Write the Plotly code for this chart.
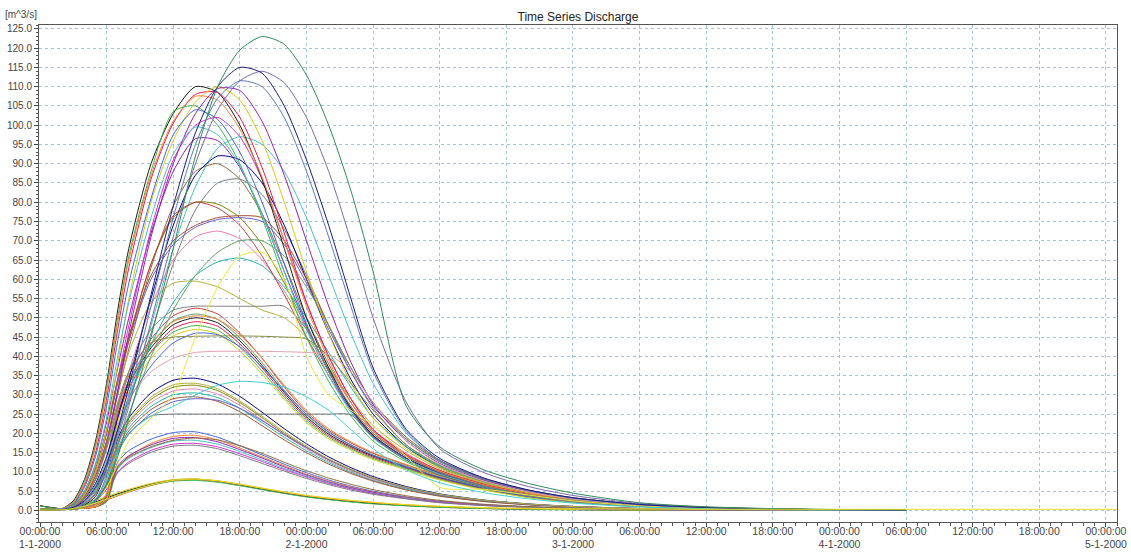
import plotly.graph_objects as go

# time axis in hours since 1-1-2000 00:00:00
HOURS = [0, 2, 3, 4, 5, 6, 7, 8, 10, 12, 14, 16, 18, 20, 22, 24,
         26, 28, 30, 33, 36, 40, 44, 48, 54, 60, 68, 78]

X_TICK_VALUES = [0, 6, 12, 18, 24, 30, 36, 42, 48, 54, 60, 66, 72, 78, 84, 90, 96]
X_TICK_LABELS = ["00:00:00<br>1-1-2000", "06:00:00", "12:00:00", "18:00:00",
                 "00:00:00<br>2-1-2000", "06:00:00", "12:00:00", "18:00:00",
                 "00:00:00<br>3-1-2000", "06:00:00", "12:00:00", "18:00:00",
                 "00:00:00<br>4-1-2000", "06:00:00", "12:00:00", "18:00:00",
                 "00:00:00<br>5-1-2000"]

# family peaking near 8 m3/s
F8 = [
    [0.1, 0.2, 0.6, 1.3, 2.2, 3.3, 4.3, 5.2, 6.8, 7.9, 8.1, 7.6, 6.6, 5.5, 4.5, 3.6, 2.9, 2.3, 1.8, 1.25, 0.85, 0.5, 0.3, 0.2, 0.1, 0.05, 0.03, 0.02],
    [0.1, 0.2, 0.4, 0.9, 1.7, 2.7, 3.8, 4.8, 6.5, 7.7, 8.0, 7.6, 6.7, 5.7, 4.7, 3.8, 3.1, 2.5, 2.0, 1.4, 1.0, 0.6, 0.38, 0.24, 0.12, 0.06, 0.03, 0.02],
    [1.2, 0.4, 0.6, 1.2, 2.0, 3.0, 4.0, 5.0, 6.6, 7.6, 7.8, 7.3, 6.4, 5.4, 4.4, 3.5, 2.8, 2.2, 1.7, 1.2, 0.8, 0.5, 0.3, 0.18, 0.09, 0.05, 0.02, 0.01],
    [0.1, 0.3, 0.8, 1.6, 2.6, 3.6, 4.6, 5.5, 7.0, 8.0, 8.2, 7.7, 6.8, 5.8, 4.8, 3.9, 3.2, 2.6, 2.1, 1.5, 1.05, 0.65, 0.42, 0.27, 0.14, 0.07, 0.03, 0.02],
]
YELLOW_HOURS = [0, 2, 3, 4, 5, 6, 7, 8, 10, 12, 14, 16, 18, 20, 22, 24,
                26, 28, 30, 33, 36, 40, 44, 48, 54, 60, 68, 78, 88, 97]
YELLOW_VALUES = [0.1, 0.2, 0.5, 1.1, 1.9, 2.9, 3.9, 4.9, 6.6, 7.8, 8.1, 7.7, 6.8, 5.8, 4.8, 3.9,
                 3.2, 2.6, 2.1, 1.5, 1.1, 0.75, 0.55, 0.45, 0.38, 0.33, 0.3, 0.3, 0.3, 0.3]

# family peaking near 18-20
F20 = [
    [0.3, 0.3, 0.4, 0.6, 1.0, 3.0, 12.5, 15.5, 18.5, 20.2, 20.4, 19.0, 16.8, 14.4, 12.0, 9.8, 7.9, 6.3, 5.0, 3.5, 2.4, 1.5, 0.95, 0.6, 0.3, 0.16, 0.07, 0.03],
    [0.2, 0.3, 0.6, 1.3, 3.0, 6.5, 11.0, 14.0, 17.4, 19.2, 19.5, 18.3, 16.2, 13.9, 11.6, 9.4, 7.6, 6.1, 4.8, 3.4, 2.3, 1.45, 0.9, 0.55, 0.28, 0.14, 0.06, 0.03],
    [1.2, 0.4, 0.5, 0.7, 1.1, 2.8, 11.5, 14.2, 17.0, 18.7, 18.9, 17.8, 15.8, 13.6, 11.3, 9.2, 7.4, 5.9, 4.7, 3.3, 2.25, 1.4, 0.88, 0.54, 0.27, 0.13, 0.06, 0.03],
    [0.3, 0.3, 0.4, 0.6, 0.9, 2.2, 10.8, 13.5, 16.3, 18.0, 18.2, 17.2, 15.3, 13.1, 10.9, 8.9, 7.2, 5.7, 4.5, 3.2, 2.15, 1.35, 0.85, 0.52, 0.26, 0.13, 0.06, 0.03],
    [0.2, 0.3, 0.5, 1.1, 2.4, 5.5, 10.0, 12.6, 15.6, 17.2, 17.4, 16.5, 14.7, 12.7, 10.6, 8.7, 7.0, 5.6, 4.4, 3.1, 2.1, 1.3, 0.82, 0.5, 0.25, 0.12, 0.05, 0.02],
    [0.3, 0.3, 0.4, 0.6, 1.0, 2.6, 11.2, 13.8, 16.5, 18.2, 18.8, 18.3, 16.8, 14.8, 12.5, 10.3, 8.4, 6.8, 5.4, 3.8, 2.6, 1.6, 1.0, 0.62, 0.31, 0.15, 0.07, 0.03],
    [0.2, 0.2, 0.4, 0.7, 1.5, 4.0, 9.8, 12.2, 15.1, 16.7, 16.9, 16.0, 14.2, 12.2, 10.2, 8.3, 6.7, 5.3, 4.2, 3.0, 2.0, 1.25, 0.8, 0.48, 0.24, 0.12, 0.05, 0.02],
]

# family peaking near 30
F30 = [
    [0.3, 0.3, 0.4, 0.6, 1.0, 3.0, 18.5, 24.0, 30.5, 33.8, 34.3, 32.8, 29.6, 25.5, 21.2, 17.3, 13.9, 11.1, 8.8, 6.2, 4.3, 2.7, 1.7, 1.05, 0.52, 0.26, 0.11, 0.05],
    [0.3, 0.3, 0.5, 1.1, 2.8, 8.0, 17.5, 22.8, 28.8, 32.0, 32.5, 31.1, 28.0, 24.1, 20.0, 16.4, 13.1, 10.5, 8.3, 5.9, 4.1, 2.6, 1.6, 1.0, 0.5, 0.25, 0.1, 0.04],
    [1.2, 0.4, 0.5, 0.7, 1.2, 3.5, 17.0, 22.2, 28.0, 31.0, 31.5, 30.2, 27.3, 23.5, 19.6, 16.0, 12.8, 10.2, 8.1, 5.7, 4.0, 2.5, 1.55, 0.95, 0.48, 0.24, 0.1, 0.04],
    [0.2, 0.3, 0.5, 1.0, 2.5, 7.0, 16.2, 21.4, 27.0, 30.0, 30.5, 29.3, 26.5, 22.8, 19.0, 15.5, 12.4, 9.9, 7.8, 5.5, 3.8, 2.4, 1.5, 0.92, 0.46, 0.23, 0.1, 0.04],
    [0.3, 0.3, 0.4, 0.6, 0.9, 2.4, 15.5, 20.6, 26.2, 29.0, 29.5, 28.3, 25.6, 22.0, 18.3, 15.0, 12.0, 9.6, 7.6, 5.3, 3.7, 2.3, 1.45, 0.9, 0.45, 0.22, 0.09, 0.04],
    [0.2, 0.3, 0.5, 1.0, 2.4, 6.8, 15.0, 19.8, 25.2, 28.2, 29.0, 28.6, 26.5, 23.3, 19.7, 16.3, 13.2, 10.6, 8.4, 5.9, 4.1, 2.6, 1.6, 1.0, 0.5, 0.25, 0.1, 0.04],
    [0.3, 0.3, 0.4, 0.7, 1.1, 3.2, 17.8, 23.2, 29.4, 32.6, 33.0, 31.6, 28.4, 24.5, 20.4, 16.7, 13.4, 10.7, 8.5, 6.0, 4.2, 2.65, 1.65, 1.02, 0.51, 0.25, 0.1, 0.04],
]

# family peaking near 50
F50 = [
    [0.3, 0.4, 0.8, 1.6, 4.2, 12.5, 27.0, 35.0, 44.5, 50.5, 52.5, 51.0, 46.0, 39.5, 32.0, 25.5, 20.8, 17.5, 14.8, 11.8, 9.0, 6.0, 3.8, 2.4, 1.15, 0.57, 0.23, 0.08],
    [0.3, 0.3, 0.4, 0.6, 1.0, 4.0, 26.0, 33.8, 43.2, 49.2, 51.0, 49.6, 44.8, 38.4, 31.2, 24.8, 20.2, 17.0, 14.4, 11.5, 8.7, 5.8, 3.7, 2.3, 1.1, 0.55, 0.22, 0.08],
    [1.2, 0.4, 0.7, 1.4, 3.6, 11.0, 25.0, 32.8, 42.2, 48.2, 50.0, 48.7, 44.0, 37.7, 30.6, 24.3, 19.8, 16.6, 14.1, 11.2, 8.5, 5.7, 3.6, 2.25, 1.08, 0.54, 0.21, 0.08],
    [0.2, 0.3, 0.4, 0.6, 0.9, 3.5, 24.0, 31.8, 41.2, 47.2, 49.0, 47.8, 43.2, 37.0, 30.0, 23.8, 19.4, 16.3, 13.8, 11.0, 8.3, 5.6, 3.5, 2.2, 1.05, 0.52, 0.21, 0.07],
    [0.3, 0.4, 0.8, 1.7, 4.5, 13.0, 26.5, 33.0, 41.0, 46.3, 48.0, 46.8, 42.3, 36.2, 29.4, 23.3, 19.0, 16.0, 13.5, 10.8, 8.1, 5.4, 3.4, 2.15, 1.02, 0.51, 0.2, 0.07],
    [0.3, 0.3, 0.4, 0.6, 1.0, 3.0, 23.0, 30.5, 39.5, 45.3, 47.0, 45.8, 41.4, 35.4, 28.8, 22.8, 18.6, 15.6, 13.2, 10.5, 7.9, 5.3, 3.35, 2.1, 1.0, 0.5, 0.2, 0.07],
    [0.2, 0.3, 0.5, 1.0, 2.8, 9.0, 21.0, 28.5, 37.5, 43.5, 46.0, 45.6, 42.5, 37.2, 31.0, 25.0, 20.4, 17.0, 14.3, 11.3, 8.6, 5.7, 3.6, 2.25, 1.08, 0.54, 0.21, 0.08],
    [0.3, 0.3, 0.4, 0.7, 1.2, 4.5, 25.5, 33.5, 43.0, 49.0, 50.5, 49.6, 45.6, 39.5, 32.5, 26.0, 21.2, 17.8, 15.0, 11.9, 9.0, 6.0, 3.8, 2.4, 1.15, 0.57, 0.23, 0.08],
]

# early-rising family peaking near 100-110
F100 = [
    [0.2, 0.5, 2.5, 8.0, 18.0, 33.0, 52.0, 68.0, 90.0, 103.0, 110.0, 108.5, 100.0, 86.0, 68.0, 50.0, 37.0, 26.5, 19.5, 13.5, 9.8, 6.4, 4.2, 2.7, 1.3, 0.65, 0.26, 0.1],
    [0.2, 0.4, 1.8, 6.5, 15.0, 29.0, 47.0, 63.0, 86.0, 100.5, 108.0, 108.5, 102.0, 89.0, 72.0, 54.0, 40.0, 29.0, 21.0, 14.5, 10.4, 6.8, 4.4, 2.8, 1.35, 0.67, 0.27, 0.1],
    [1.2, 0.5, 2.2, 7.5, 17.0, 32.0, 50.0, 66.0, 88.0, 103.5, 105.0, 100.0, 90.0, 76.0, 60.0, 45.0, 33.5, 24.5, 18.0, 12.6, 9.2, 6.0, 3.9, 2.5, 1.2, 0.6, 0.24, 0.09],
    [0.2, 0.3, 1.0, 4.0, 10.0, 21.0, 38.0, 55.0, 80.0, 96.0, 106.0, 110.0, 106.5, 96.0, 80.0, 62.0, 46.0, 33.0, 24.0, 16.0, 11.2, 7.2, 4.6, 2.9, 1.4, 0.68, 0.27, 0.1],
    [0.2, 0.4, 1.6, 6.0, 14.0, 27.0, 44.0, 59.0, 81.0, 97.5, 104.0, 101.5, 93.0, 80.0, 64.0, 48.5, 36.0, 26.0, 19.2, 13.4, 9.6, 6.2, 4.0, 2.6, 1.25, 0.62, 0.25, 0.09],
    [0.2, 0.5, 2.0, 7.0, 16.5, 31.0, 49.0, 65.0, 87.0, 101.0, 107.5, 106.5, 99.0, 86.5, 70.0, 53.0, 39.0, 28.0, 20.5, 14.2, 10.2, 6.6, 4.3, 2.75, 1.32, 0.66, 0.26, 0.1],
    [0.2, 0.3, 0.8, 3.0, 8.0, 17.0, 31.0, 46.0, 71.0, 90.0, 103.0, 109.5, 109.0, 101.0, 87.0, 70.0, 53.0, 38.5, 27.5, 18.0, 12.2, 7.8, 5.0, 3.1, 1.5, 0.72, 0.28, 0.1],
    [0.2, 0.4, 1.4, 5.0, 12.0, 24.0, 40.0, 54.0, 76.0, 92.5, 99.5, 97.5, 89.5, 77.0, 62.0, 47.0, 35.0, 25.5, 18.8, 13.1, 9.4, 6.1, 3.95, 2.55, 1.22, 0.6, 0.24, 0.09],
]

# late, tall hydrographs
G123 = [0.2, 0.2, 0.4, 1.0, 2.5, 6.5, 14.0, 24.0, 45.0, 68.0, 92.0, 110.0, 119.5, 123.0, 121.0, 113.0, 100.0, 83.0, 62.0, 27.0, 16.5, 10.5, 7.0, 4.5, 2.0, 0.95, 0.37, 0.12]
N115 = [0.2, 0.3, 0.8, 2.5, 6.0, 12.0, 21.0, 32.0, 56.0, 79.0, 98.0, 110.0, 115.0, 113.5, 105.0, 91.0, 74.0, 55.0, 37.0, 21.0, 13.5, 8.4, 5.3, 3.3, 1.55, 0.75, 0.3, 0.1]
P114 = [0.2, 0.3, 0.6, 1.8, 4.5, 9.5, 17.0, 27.0, 49.0, 71.0, 90.0, 104.0, 111.5, 114.0, 111.0, 102.0, 88.0, 70.0, 50.0, 28.0, 16.0, 9.8, 6.2, 3.9, 1.8, 0.85, 0.33, 0.11]
S112 = [0.2, 0.3, 0.7, 2.2, 5.5, 11.0, 20.0, 30.0, 53.0, 76.0, 95.0, 107.0, 111.5, 110.0, 102.0, 88.0, 71.0, 53.0, 36.0, 20.5, 13.0, 8.2, 5.2, 3.2, 1.5, 0.72, 0.28, 0.1]

# middle-range hydrographs
MID = [
    [0.2, 0.4, 1.5, 5.0, 12.0, 23.0, 37.0, 50.0, 72.0, 88.0, 96.5, 96.0, 89.0, 77.0, 62.0, 48.0, 36.0, 26.5, 19.5, 13.6, 9.7, 6.3, 4.1, 2.6, 1.25, 0.62, 0.25, 0.09],
    [0.2, 0.3, 0.8, 2.5, 6.0, 12.0, 20.0, 29.0, 48.0, 68.0, 84.0, 94.0, 97.0, 95.0, 88.0, 76.0, 61.0, 46.0, 33.0, 20.0, 13.0, 8.2, 5.2, 3.3, 1.55, 0.75, 0.3, 0.1],
    [0.2, 0.4, 1.2, 4.0, 10.0, 20.0, 34.0, 48.0, 73.0, 91.0, 100.0, 102.0, 97.0, 86.0, 70.0, 54.0, 40.0, 29.0, 21.0, 14.3, 10.1, 6.5, 4.2, 2.7, 1.3, 0.64, 0.26, 0.09],
    [0.2, 0.3, 1.0, 3.5, 9.0, 18.0, 30.0, 42.0, 63.0, 79.0, 88.0, 90.0, 86.0, 77.0, 64.0, 50.0, 38.0, 28.0, 20.5, 14.1, 10.0, 6.4, 4.1, 2.65, 1.27, 0.63, 0.25, 0.09],
    [0.2, 0.3, 0.7, 2.2, 5.5, 11.0, 19.0, 28.0, 46.0, 64.0, 78.0, 85.0, 86.0, 82.0, 73.0, 61.0, 48.0, 36.0, 26.5, 17.0, 11.5, 7.4, 4.7, 3.0, 1.42, 0.7, 0.28, 0.1],
    [0.2, 0.3, 0.9, 3.0, 7.0, 14.0, 24.0, 34.0, 55.0, 74.0, 87.0, 92.0, 91.0, 85.0, 74.0, 60.0, 46.0, 34.0, 25.0, 16.5, 11.2, 7.2, 4.6, 2.9, 1.4, 0.68, 0.27, 0.1],
    [0.2, 0.4, 1.4, 4.5, 11.0, 21.0, 34.0, 45.0, 64.0, 76.0, 80.0, 79.5, 76.0, 69.0, 59.0, 47.5, 36.5, 27.0, 20.0, 14.0, 9.9, 6.4, 4.1, 2.6, 1.25, 0.62, 0.25, 0.09],
    [0.2, 0.3, 1.0, 3.2, 8.0, 16.0, 26.0, 36.0, 53.0, 65.0, 71.0, 72.5, 70.5, 65.0, 57.0, 47.0, 37.0, 28.0, 21.0, 14.8, 10.4, 6.7, 4.3, 2.75, 1.3, 0.65, 0.26, 0.09],
    [0.2, 0.3, 0.8, 2.6, 6.5, 13.0, 21.0, 29.0, 43.0, 54.0, 61.0, 64.5, 65.5, 63.5, 58.0, 50.0, 41.0, 32.0, 24.0, 16.5, 11.5, 7.4, 4.7, 3.0, 1.42, 0.7, 0.28, 0.1],
    [0.2, 0.4, 1.3, 4.2, 10.5, 21.0, 34.0, 45.0, 61.0, 70.0, 74.0, 76.0, 76.5, 76.0, 70.0, 60.0, 48.0, 37.0, 28.0, 19.0, 13.0, 8.3, 5.3, 3.3, 1.6, 0.77, 0.3, 0.1],
    [0.2, 0.4, 1.2, 4.0, 10.0, 20.0, 33.0, 44.0, 60.0, 69.0, 73.5, 75.5, 76.0, 75.0, 69.0, 59.0, 47.0, 36.0, 27.0, 18.5, 12.7, 8.1, 5.2, 3.25, 1.55, 0.75, 0.3, 0.1],
    [0.2, 0.3, 1.0, 3.5, 9.0, 18.0, 31.0, 41.0, 54.0, 59.0, 59.5, 58.0, 55.0, 52.0, 50.0, 45.0, 37.0, 29.0, 22.0, 15.5, 10.8, 7.0, 4.5, 2.85, 1.36, 0.67, 0.27, 0.1],
    [0.2, 0.3, 1.0, 3.5, 9.0, 18.0, 31.0, 44.0, 64.0, 76.5, 80.0, 78.5, 74.0, 66.0, 56.0, 45.0, 35.0, 26.0, 19.2, 13.5, 9.6, 6.2, 4.0, 2.55, 1.22, 0.6, 0.24, 0.09],
    [0.2, 0.3, 0.7, 2.0, 5.0, 10.0, 17.0, 25.0, 40.0, 52.0, 61.0, 67.0, 70.0, 70.0, 66.0, 58.0, 48.0, 37.0, 28.0, 18.5, 12.6, 8.0, 5.1, 3.2, 1.52, 0.74, 0.29, 0.1],
]

# irregular series (plateaus, bumps)
H53 = [0.2, 0.3, 1.0, 3.2, 8.0, 16.0, 27.0, 36.0, 47.0, 52.0, 53.0, 53.0, 53.0, 53.0, 53.0, 47.0, 36.0, 27.0, 20.0, 14.0, 9.9, 6.4, 4.1, 2.6, 1.25, 0.62, 0.25, 0.09]
H25 = [0.3, 0.3, 0.5, 1.0, 2.5, 7.0, 15.0, 20.0, 24.5, 25.0, 25.0, 25.0, 25.0, 25.0, 25.0, 25.0, 25.0, 24.8, 19.0, 13.0, 9.2, 6.0, 3.9, 2.5, 1.2, 0.6, 0.24, 0.09]
H45 = [0.2, 0.3, 1.0, 3.2, 8.0, 17.0, 28.0, 36.0, 43.5, 45.0, 45.2, 45.3, 45.3, 45.2, 45.0, 44.5, 40.0, 33.0, 26.0, 17.0, 11.8, 7.6, 4.8, 3.05, 1.45, 0.71, 0.28, 0.1]
YODD = [0.2, 0.3, 0.5, 1.0, 2.5, 6.0, 12.0, 18.0, 24.0, 30.0, 45.0, 58.0, 66.0, 67.0, 60.0, 40.0, 30.0, 26.0, 22.0, 14.0, 6.0, 5.5, 4.0, 2.5, 1.2, 0.6, 0.24, 0.09]
C33 = [0.2, 0.3, 0.6, 1.2, 3.0, 8.0, 15.0, 20.0, 24.5, 27.0, 30.0, 32.5, 33.5, 33.2, 32.0, 29.5, 26.0, 21.0, 16.0, 10.5, 7.2, 4.6, 3.0, 1.9, 0.9, 0.45, 0.18, 0.06]
L41 = [0.2, 0.3, 0.8, 2.5, 6.0, 13.0, 22.0, 29.0, 36.0, 39.5, 41.0, 41.3, 41.3, 41.3, 41.2, 41.0, 40.5, 36.0, 28.0, 18.0, 12.0, 7.6, 4.8, 3.0, 1.45, 0.7, 0.28, 0.1]

PALETTE = ['#1a1a1a', '#e6194b', '#3cb44b', '#d8c81a', '#4363d8', '#f58231', '#911eb4',
           '#46c0c0', '#d030d0', '#8b6b3d', '#7a7a7a', '#000080', '#808000', '#e080b0',
           '#20b2aa', '#a0522d', '#6a5acd', '#b0b040', '#c04040', '#60a060']

SPECIAL = [
    (H53, '#808080'), (H25, '#6e6e6e'), (H45, '#8a8a40'), (YODD, '#e8e840'),
    (C33, '#40d0d0'), (L41, '#e0a0b0'), (S112, '#5a7ab8'), (P114, '#7b68ae'),
    (N115, '#1a1a80'), (G123, '#2e8b57'),
]

fig = go.Figure()

def add_line(x, y, color):
    fig.add_trace(go.Scatter(
        x=x, y=y, mode='lines',
        line=dict(color=color, width=1, shape='spline', smoothing=0.7),
        hoverinfo='skip', showlegend=False))

k = 0
for group in (F8, F20, F30, F50, MID, F100):
    for vals in group:
        add_line(HOURS, vals, PALETTE[k % len(PALETTE)])
        k += 1
for vals, col in SPECIAL:
    add_line(HOURS, vals, col)
add_line(YELLOW_HOURS, YELLOW_VALUES, '#e8e020')

FONT = 'Liberation Sans, Arial, sans-serif'
x_font = dict(family=FONT, size=10.5, color='#444')
y_font = dict(family=FONT, size=10, color='#444')
grid_col = '#9cc4e2'

fig.update_layout(
    width=1131, height=555,
    margin=dict(l=39, r=14, t=25, b=33, autoexpand=False),
    paper_bgcolor='white', plot_bgcolor='white',
    showlegend=False,
    font=dict(family=FONT, size=10, color='#444'),
    title=dict(text='Time Series Discharge', x=0.5, xref='paper', xanchor='center',
               y=1 - 17 / 555, yref='container', yanchor='middle',
               font=dict(family=FONT, size=12, color='#222')),
    annotations=[dict(text='[m^3/s]', xref='paper', yref='paper', x=0, y=1,
                      xanchor='right', yanchor='bottom', xshift=0, yshift=3,
                      showarrow=False,
                      font=dict(family=FONT, size=10, color='#444'))],
    xaxis=dict(range=[-0.09, 97.0], tickmode='array', tickvals=X_TICK_VALUES,
               ticktext=X_TICK_LABELS, ticks='outside', ticklen=4, tickcolor='#444',
               ticklabelstandoff=-5,
               showline=True, linecolor='#555', linewidth=1, mirror=True,
               showgrid=True, gridcolor=grid_col, griddash='dot', gridwidth=1,
               zeroline=False, tickfont=x_font, automargin=False,
               minor=dict(tickmode='linear', tick0=0, dtick=1, ticks='outside',
                          ticklen=3, tickcolor='#555', showgrid=False)),
    yaxis=dict(range=[-3.0, 126.0], tickmode='linear', tick0=0, dtick=5,
               tickformat='.1f', ticks='outside', ticklen=4, tickcolor='#444',
               showline=True, linecolor='#555', linewidth=1, mirror=True,
               showgrid=True, gridcolor=grid_col, griddash='dot', gridwidth=1,
               zeroline=False, tickfont=y_font, automargin=False,
               minor=dict(tickmode='linear', tick0=0, dtick=1, ticks='outside',
                          ticklen=2, tickcolor='#555', showgrid=False)),
)

fig.write_html("out.html")
